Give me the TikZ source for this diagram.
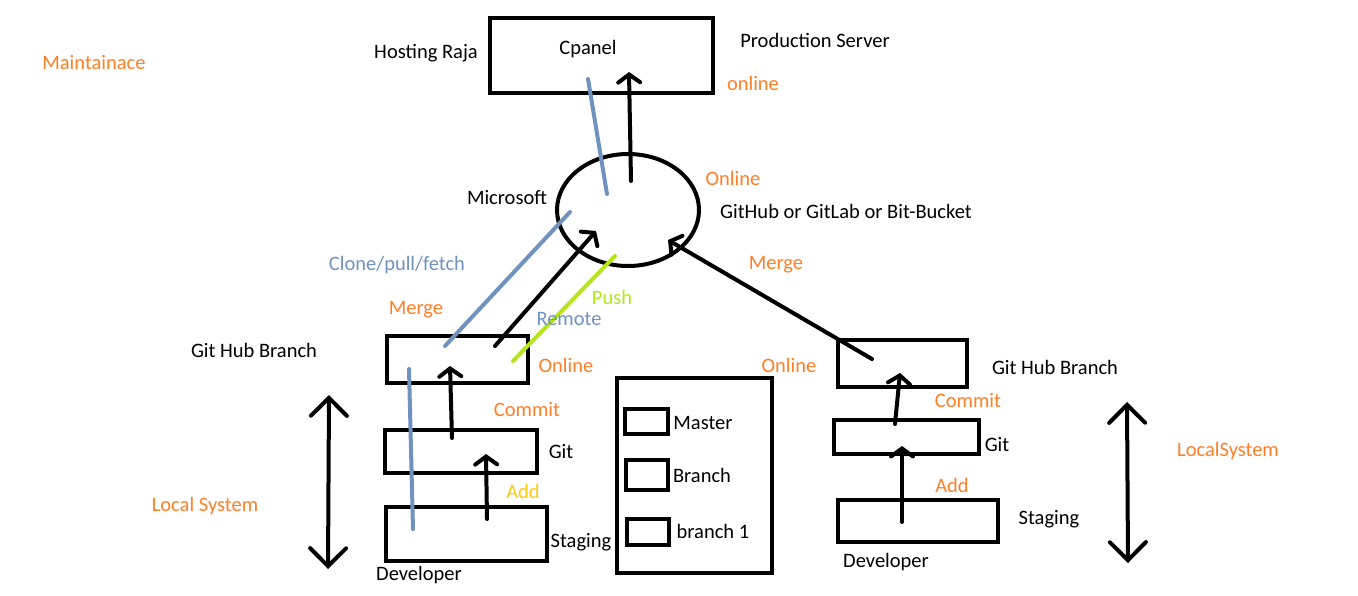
\documentclass[tikz,border=0pt]{standalone}
\usepackage{fontspec}
\setmainfont{Carlito}
\usetikzlibrary{arrows.meta,shapes.geometric}
\definecolor{paintorange}{RGB}{255,127,39}
\definecolor{paintblue}{RGB}{112,146,190}
\definecolor{paintgreen}{RGB}{181,230,29}
\definecolor{paintgold}{RGB}{255,201,14}
\begin{document}
\begin{tikzpicture}[x=1pt,y=-1pt,
  box/.style={draw, line width=4pt, inner sep=0pt},
  lbl/.style={font=\fontsize{20.5}{22}\selectfont, inner sep=0pt},
  olbl/.style={lbl, text=paintorange},
  arr/.style={line width=4pt, line cap=round, -{Straight Barb[length=8pt,width=22pt,line cap=round]}},
  dbl/.style={line width=4pt, line cap=round, {Straight Barb[length=18pt,width=36pt,line cap=round]}-{Straight Barb[length=18pt,width=36pt,line cap=round]}},
  ln/.style={line width=4pt, line cap=round}]
\useasboundingbox (0,0) rectangle (1358,595);
\fill[white] (0,0) rectangle (1358,595);

% boxes
\node[box, minimum width=223pt, minimum height=75pt] (cpanel) at (601.5,55.5) {};
\node[box, ellipse, minimum width=142pt, minimum height=112pt] (hub) at (628,210) {};
\node[box, minimum width=141pt, minimum height=47pt] (lghb) at (457.5,359.5) {};
\node[box, minimum width=152pt, minimum height=43pt] (lgit) at (461,451.5) {};
\node[box, minimum width=161pt, minimum height=54pt] (lstg) at (466.5,534) {};
\node[box, minimum width=155pt, minimum height=195pt] (big) at (694.5,475.5) {};
\node[box, minimum width=43pt, minimum height=25pt] (master) at (646.5,421.5) {};
\node[box, minimum width=42pt, minimum height=30pt] (branch) at (647,475) {};
\node[box, minimum width=42pt, minimum height=26pt] (branchone) at (648,532) {};
\node[box, minimum width=129pt, minimum height=47pt] (rghb) at (902.5,363.5) {};
\node[box, minimum width=145pt, minimum height=34pt] (rgit) at (906.5,437) {};
\node[box, minimum width=160pt, minimum height=42pt] (rstg) at (918,521) {};

% connector end points
\coordinate (b1a) at (588,79);   \coordinate (b1b) at (607,194);
\coordinate (u1a) at (631,181);  \coordinate (u1b) at (629,72);
\coordinate (cla) at (445,346);  \coordinate (clb) at (570,212);
\coordinate (pua) at (495,346);  \coordinate (pub) at (596,231);
\coordinate (gra) at (513,361);  \coordinate (grb) at (615,256);
\coordinate (mga) at (872,359);  \coordinate (mgb) at (668,240);
\coordinate (lca) at (452,438);  \coordinate (lcb) at (450,366);
\coordinate (laa) at (487,519);  \coordinate (lab) at (486,454);
\coordinate (bva) at (409,369);  \coordinate (bvb) at (413,529);
\coordinate (lda) at (329,395);  \coordinate (ldb) at (328,569);
\coordinate (rca) at (895,424);  \coordinate (rcb) at (900,373);
\coordinate (raa) at (902,522);  \coordinate (rab) at (902,446);
\coordinate (rda) at (1127,402); \coordinate (rdb) at (1128,563);

% connectors
\draw[ln, paintblue] (b1a) -- (b1b);
\draw[arr] (u1a) -- (u1b);
\draw[ln, paintblue] (cla) -- (clb);
\draw[arr] (pua) -- (pub);
\draw[ln, paintgreen] (gra) -- (grb);
\draw[arr] (mga) -- (mgb);
\draw[arr] (lca) -- (lcb);
\draw[arr] (laa) -- (lab);
\draw[ln, paintblue] (bva) -- (bvb);
\draw[dbl] (lda) -- (ldb);
\draw[arr] (rca) -- (rcb);
\draw[arr] (raa) -- (rab);
\draw[dbl] (rda) -- (rdb);

% labels
\node[lbl] (tcpanel) at (588,49) {Cpanel};
\node[lbl] (thosting) at (426,53) {Hosting Raja};
\node[lbl] (tprod) at (815,40) {Production Server};
\node[olbl] (tonline1) at (753,83) {online};
\node[olbl] (tmaint) at (94,63) {Maintainace};
\node[lbl] (tms) at (507,198) {Microsoft};
\node[olbl] (tonline2) at (733,178) {Online};
\node[lbl] (tgh) at (846,211) {GitHub or GitLab or Bit-Bucket};
\node[lbl, text=paintblue] (tclone) at (397,265) {Clone/pull/fetch};
\node[olbl] (tmerge1) at (776,265) {Merge};
\node[lbl, text=paintgreen] (tpush) at (612,297) {Push};
\node[olbl] (tmerge2) at (416,310) {Merge};
\node[lbl, text=paintblue] (tremote) at (569,319) {Remote};
\node[lbl] (tlghb) at (254,350) {Git Hub Branch};
\node[olbl] (tonline3) at (566,365) {Online};
\node[olbl] (tonline4) at (789,365) {Online};
\node[lbl] (trghb) at (1055,367) {Git Hub Branch};
\node[olbl] (tcommit1) at (527,410) {Commit};
\node[olbl] (tcommit2) at (968,401) {Commit};
\node[lbl] (tmaster) at (703,423) {Master};
\node[lbl] (tgit1) at (561,452) {Git};
\node[lbl] (tgit2) at (997,445) {Git};
\node[olbl] (tlocal2) at (1228,451) {LocalSystem};
\node[lbl] (tbranch) at (702,475) {Branch};
\node[lbl, text=paintgold] (tadd1) at (523,491) {Add};
\node[olbl] (tadd2) at (952,485) {Add};
\node[olbl] (tlocal1) at (205,506) {Local System};
\node[lbl] (tstg2) at (1049,519) {Staging};
\node[lbl] (tbranchone) at (713,531) {branch 1};
\node[lbl] (tstg1) at (581,542) {Staging};
\node[lbl] (tdev2) at (886,562) {Developer};
\node[lbl] (tdev1) at (419,575) {Developer};
\end{tikzpicture}
\end{document}
